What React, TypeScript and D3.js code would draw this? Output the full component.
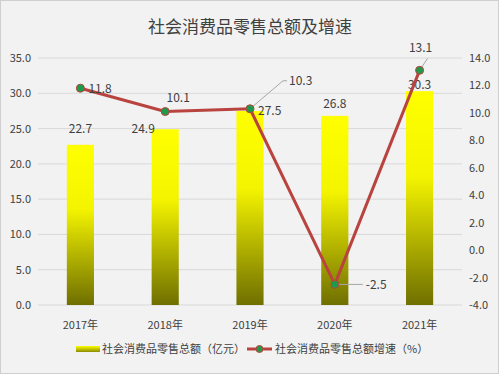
import React from "react";
import * as d3 from "d3";

const categories = ["2017年", "2018年", "2019年", "2020年", "2021年"];
const totals = [22.7, 24.9, 27.5, 26.8, 30.3];
const growth = [11.8, 10.1, 10.3, -2.5, 13.1];
const leftTicks = [0, 5, 10, 15, 20, 25, 30, 35];
const rightTicks = [-4, -2, 0, 2, 4, 6, 8, 10, 12, 14];
const title = "社会消费品零售总额及增速";
const legendBar = "社会消费品零售总额（亿元）";
const legendLine = "社会消费品零售总额增速（%）";

const W = 500, H = 375;
const plot = { left: 38, right: 462, top: 58, bottom: 305 };
const FONT = "'Noto Sans CJK SC', 'Noto Sans', sans-serif";
const TXT = "#404040";

export default function App() {
  const x = d3.scaleBand<string>().domain(categories).range([plot.left, plot.right]).paddingInner(0.68).paddingOuter(0.34);
  const yL = d3.scaleLinear().domain([0, 35]).range([plot.bottom, plot.top]);
  const yR = d3.scaleLinear().domain([-4, 14]).range([plot.bottom, plot.top]);
  const cx = (c: string) => (x(c) as number) + x.bandwidth() / 2;
  const line = d3.line<number>().x((_, i) => cx(categories[i])).y((d) => yR(d));

  // label offsets per point (layout only)
  const barLabelPos = [
    { dx: 0, dy: -12, anchor: "middle" },
    { dx: -22, dy: 4, anchor: "middle" },
    { dx: 8, dy: 4, anchor: "start" },
    { dx: 0, dy: -8, anchor: "middle" },
    { dx: 0, dy: -2, anchor: "middle" },
  ];

  return (
    <svg width={W} height={H} style={{ position: "absolute", left: 0, top: 0 }} fontFamily={FONT}>
      <defs>
        <linearGradient id="barGrad" x1="0" y1="0" x2="0" y2="1">
          <stop offset="0" stopColor="#ffff00" />
          <stop offset="0.4" stopColor="#f4f400" />
          <stop offset="1" stopColor="#6f6f00" />
        </linearGradient>
        <linearGradient id="legGrad" x1="0" y1="0" x2="0" y2="1">
          <stop offset="0" stopColor="#ffff00" />
          <stop offset="1" stopColor="#8a8a00" />
        </linearGradient>
      </defs>
      <rect x={0.5} y={0.5} width={W - 2} height={H - 2} fill="#f2f2f2" stroke="#cfcfcf" />
      <text x={W / 2} y={33} textAnchor="middle" fontSize={17} fill={TXT}>{title}</text>

      {leftTicks.map((t) => (
        <g key={"g" + t}>
          <line x1={plot.left} x2={plot.right} y1={yL(t)} y2={yL(t)} stroke="#d9d9d9" strokeWidth={1} />
          <text x={31} y={yL(t) + 4} textAnchor="end" fontSize={11} fill={TXT}>{t.toFixed(1)}</text>
        </g>
      ))}
      {rightTicks.map((t) => (
        <text key={"r" + t} x={469} y={yR(t) + 4} textAnchor="start" fontSize={11} fill={TXT}>{t.toFixed(1)}</text>
      ))}

      {categories.map((c, i) => (
        <rect key={"b" + c} x={x(c)} y={yL(totals[i])} width={x.bandwidth()} height={yL(0) - yL(totals[i])} fill="url(#barGrad)" />
      ))}
      {categories.map((c) => (
        <text key={"x" + c} x={cx(c)} y={329} textAnchor="middle" fontSize={11} fill={TXT}>{c}</text>
      ))}

      {categories.map((c, i) => {
        const p = barLabelPos[i];
        return (
          <text key={"bl" + c} x={cx(c) + p.dx} y={yL(totals[i]) + p.dy} textAnchor={p.anchor as any} fontSize={12} fill={TXT}>
            {totals[i].toFixed(1)}
          </text>
        );
      })}

      <path d={line(growth) || ""} fill="none" stroke="#b9443f" strokeWidth={3} strokeLinejoin="round" />

      {/* leader lines */}
      <polyline points={`${cx(categories[2])},${yR(growth[2])} ${cx(categories[2]) + 33},${yR(growth[2]) - 28} ${cx(categories[2]) + 37},${yR(growth[2]) - 28}`} fill="none" stroke="#a6a6a6" strokeWidth={1} />
      <line x1={cx(categories[3])} y1={yR(growth[3])} x2={cx(categories[3]) + 28} y2={yR(growth[3])} stroke="#a6a6a6" strokeWidth={1} />
      <line x1={cx(categories[4])} y1={yR(growth[4])} x2={cx(categories[4]) + 8} y2={yR(growth[4]) - 12} stroke="#a6a6a6" strokeWidth={1} />

      {categories.map((c, i) => (
        <circle key={"m" + c} cx={cx(c)} cy={yR(growth[i])} r={4} fill="#1f9a4a" stroke="#b9443f" strokeWidth={1} />
      ))}

      <text x={cx(categories[0]) + 8} y={yR(growth[0]) + 5} textAnchor="start" fontSize={12} fill={TXT}>{growth[0].toFixed(1)}</text>
      <text x={cx(categories[1]) + 13} y={yR(growth[1]) - 10} textAnchor="middle" fontSize={12} fill={TXT}>{growth[1].toFixed(1)}</text>
      <text x={cx(categories[2]) + 39} y={yR(growth[2]) - 24} textAnchor="start" fontSize={12} fill={TXT}>{growth[2].toFixed(1)}</text>
      <text x={cx(categories[3]) + 31} y={yR(growth[3]) + 5} textAnchor="start" fontSize={12} fill={TXT}>{growth[3].toFixed(1)}</text>
      <text x={cx(categories[4]) + 1} y={yR(growth[4]) - 18} textAnchor="middle" fontSize={12} fill={TXT}>{growth[4].toFixed(1)}</text>

      {/* legend */}
      <rect x={76} y={346} width={24} height={6} fill="url(#legGrad)" />
      <text x={102} y={353} fontSize={11} fill={TXT}>{legendBar}</text>
      <line x1={247} x2={272} y1={349} y2={349} stroke="#b9443f" strokeWidth={3} />
      <circle cx={259.5} cy={349} r={3.5} fill="#1f9a4a" stroke="#b9443f" strokeWidth={1} />
      <text x={275} y={353} fontSize={11} fill={TXT}>{legendLine}</text>
    </svg>
  );
}
